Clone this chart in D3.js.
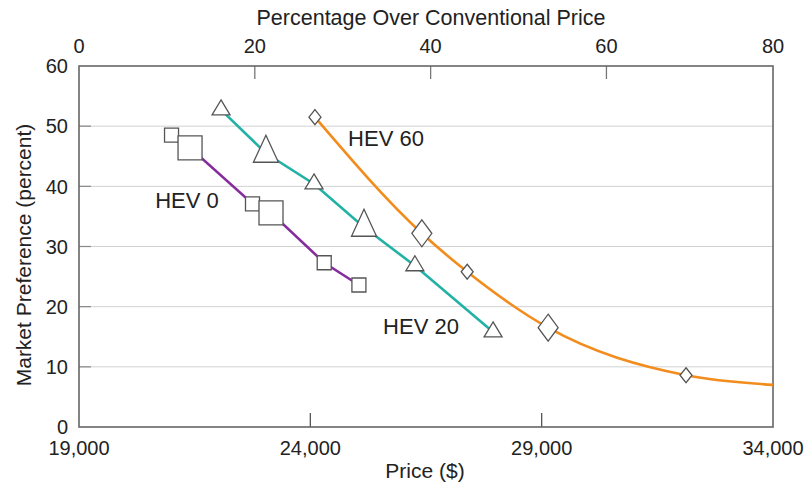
<!DOCTYPE html>
<html>
<head>
<meta charset="utf-8">
<script src="https://cdn.jsdelivr.net/npm/d3@7"></script>
<style>
	body { margin: 0; background: #fff; }
	text { font-family: "Liberation Sans", Arial, sans-serif; fill: #222; }
</style>
</head>
<body>
<div id="chart"></div>
<script>
// data
const hev0Price = [21000, 21400, 22750, 23150, 24300, 25050];
const hev0Pref = [48.5, 46.4, 37.1, 35.6, 27.3, 23.6];
const hev0Mark = ["s", "L", "s", "L", "s", "s"];

const hev20Price = [22070, 23040, 24080, 25160, 26260, 27950];
const hev20Pref = [52.7, 45.5, 40.4, 33.2, 26.8, 15.8];
const hev20Mark = ["s", "L", "s", "L", "s", "s"];

const hev60Price = [24100, 26410, 27390, 29140, 32120, 34000];
const hev60Pref = [51.5, 32.2, 25.8, 16.5, 8.6, 7.0];
const hev60Mark = ["s", "L", "s", "L", "s", ""];

const priceTicks = [19000, 24000, 29000, 34000];
const pctTicks = [0, 20, 40, 60, 80];
const prefTicks = [0, 10, 20, 30, 40, 50, 60];

const width = 811, height = 489;
const margin = { top: 66, right: 38, bottom: 62, left: 79 };
const innerW = width - margin.left - margin.right;
const innerH = height - margin.top - margin.bottom;

const svg = d3.select("#chart").append("svg")
	.attr("width", width)
	.attr("height", height);

const g = svg.append("g").attr("transform", `translate(${margin.left},${margin.top})`);

const x = d3.scaleLinear().domain([19000, 34000]).range([0, innerW]);
const y = d3.scaleLinear().domain([0, 60]).range([innerH, 0]);
// percentage over a 19,000 base price, clamped to the right edge
const xPct = (p) => x(Math.min(19000 * (1 + p / 100), 34000));

// gridlines
g.selectAll(".grid").data(prefTicks.slice(1, -1)).enter().append("line")
	.attr("x1", 0).attr("x2", innerW)
	.attr("y1", (d) => y(d)).attr("y2", (d) => y(d))
	.attr("stroke", "#d2d2d2").attr("stroke-width", 1);

// left ticks (short, darker)
g.selectAll(".ltick").data(prefTicks.slice(1, -1)).enter().append("line")
	.attr("x1", 0).attr("x2", 12)
	.attr("y1", (d) => y(d)).attr("y2", (d) => y(d))
	.attr("stroke", "#888").attr("stroke-width", 1.2);

// bottom ticks
g.selectAll(".btick").data(priceTicks.slice(1, -1)).enter().append("line")
	.attr("x1", (d) => x(d)).attr("x2", (d) => x(d))
	.attr("y1", innerH).attr("y2", innerH - 14)
	.attr("stroke", "#555").attr("stroke-width", 1.3);

// top ticks
g.selectAll(".ttick").data(pctTicks.slice(1, -1)).enter().append("line")
	.attr("x1", (d) => xPct(d)).attr("x2", (d) => xPct(d))
	.attr("y1", 0).attr("y2", 13)
	.attr("stroke", "#777").attr("stroke-width", 1.3);

// frame
g.append("rect")
	.attr("width", innerW).attr("height", innerH)
	.attr("fill", "none").attr("stroke", "#666").attr("stroke-width", 1.6);

// tick labels
g.selectAll(".blabel").data(priceTicks).enter().append("text")
	.attr("x", (d) => x(d)).attr("y", innerH + 28)
	.attr("text-anchor", "middle").style("font-size", "20px")
	.text((d) => d3.format(",")(d));

g.selectAll(".tlabel").data(pctTicks).enter().append("text")
	.attr("x", (d) => xPct(d)).attr("y", -13)
	.attr("text-anchor", "middle").style("font-size", "20px")
	.text((d) => d);

g.selectAll(".ylabel").data(prefTicks).enter().append("text")
	.attr("x", -11).attr("y", (d) => y(d)).attr("dy", "0.36em")
	.attr("text-anchor", "end").style("font-size", "20px")
	.text((d) => d);

// axis titles
svg.append("text")
	.attr("x", 431).attr("y", 25)
	.attr("text-anchor", "middle").style("font-size", "21.5px")
	.text("Percentage Over Conventional Price");

svg.append("text")
	.attr("x", 425).attr("y", 478)
	.attr("text-anchor", "middle").style("font-size", "21px")
	.text("Price ($)");

svg.append("text")
	.attr("transform", "translate(31,255) rotate(-90)")
	.attr("text-anchor", "middle").style("font-size", "21px")
	.text("Market Preference (percent)");

// series
const series = [
	{ name: "HEV 0", price: hev0Price, pref: hev0Pref, mark: hev0Mark, shape: "square", color: "#862d9e", curve: d3.curveLinear, label: [187, 208] },
	{ name: "HEV 20", price: hev20Price, pref: hev20Pref, mark: hev20Mark, shape: "triangle", color: "#21b2a5", curve: d3.curveLinear, label: [421, 334] },
	{ name: "HEV 60", price: hev60Price, pref: hev60Pref, mark: hev60Mark, shape: "diamond", color: "#f28c1c", curve: d3.curveMonotoneX, label: [386, 146] }
];

const sizes = {
	square: { s: [14, 14], L: [24, 24] },
	triangle: { s: [18, 15], L: [25, 27] },
	diamond: { s: [12, 15], L: [20, 27] }
};

function shapePath(shape, w, h) {
	if (shape === "square") {
		return `M${-w / 2},${-h / 2}h${w}v${h}h${-w}Z`;
	}
	if (shape === "triangle") {
		return `M0,${(-2 * h) / 3}L${w / 2},${h / 3}L${-w / 2},${h / 3}Z`;
	}
	return `M0,${-h / 2}L${w / 2},0L0,${h / 2}L${-w / 2},0Z`;
}

series.forEach((s) => {
	const pts = s.price.map((p, i) => ({ p, v: s.pref[i], m: s.mark[i] }));

	const line = d3.line()
		.x((d) => x(d.p))
		.y((d) => y(d.v))
		.curve(s.curve);

	g.append("path")
		.datum(pts)
		.attr("d", line)
		.attr("fill", "none")
		.attr("stroke", s.color)
		.attr("stroke-width", 2.6);

	g.selectAll(".m-" + s.shape)
		.data(pts.filter((d) => d.m))
		.enter()
		.append("path")
		.attr("transform", (d) => `translate(${x(d.p)},${y(d.v)})`)
		.attr("d", (d) => shapePath(s.shape, sizes[s.shape][d.m][0], sizes[s.shape][d.m][1]))
		.attr("fill", "#fff")
		.attr("stroke", "#555")
		.attr("stroke-width", 1.3);

	svg.append("text")
		.attr("x", s.label[0]).attr("y", s.label[1])
		.attr("text-anchor", "middle").style("font-size", "22px")
		.text(s.name);
});
</script>
</body>
</html>
